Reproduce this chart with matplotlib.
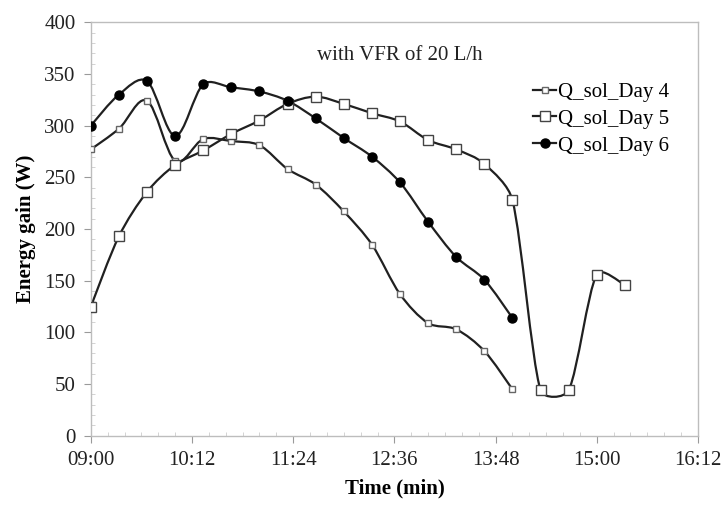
#!/usr/bin/env python3
# Energy gain per time of day, VFR 20 L/h
import matplotlib
matplotlib.use("Agg")
import numpy as np
import matplotlib.pyplot as plt
from matplotlib.path import Path
from matplotlib.patches import PathPatch
from matplotlib.lines import Line2D
from matplotlib.ticker import MultipleLocator

times_day4 = ["09:00", "09:20", "09:40", "10:00", "10:20", "10:40", "11:00", "11:20",
              "11:40", "12:00", "12:20", "12:40", "13:00", "13:20", "13:40", "14:00"]
q_day4 = [277, 297, 324, 266, 287, 285, 281, 258, 243, 217, 185, 137, 109, 103, 82, 45]

times_day5 = times_day4 + ["14:20", "14:40", "15:00", "15:20"]
q_day5 = [125, 193, 236, 262, 276, 292, 305, 321, 328, 321, 312, 304, 286, 277, 263, 228,
          44, 44, 156, 146]

times_day6 = times_day4
q_day6 = [300, 330, 343, 290, 340, 337, 333, 324, 307, 288, 270, 245, 207, 173, 151, 114]

x_tick_labels = ["09:00", "10:12", "11:24", "12:36", "13:48", "15:00", "16:12"]

plt.rcParams["font.family"] = ["Liberation Serif", "DejaVu Serif"]
plt.rcParams["font.size"] = 15


def to_min(t):
    h, m = t.split(":")
    return (int(h) - 9) * 60 + int(m)


def smooth_path(ax, xs, ys):
    # Excel-like smoothed line, control points worked out in screen space
    pts = ax.transData.transform(np.column_stack([xs, ys]))
    n = len(pts)
    verts = [pts[0]]
    codes = [Path.MOVETO]
    for i in range(n - 1):
        p0 = pts[i - 1] if i > 0 else pts[i]
        p1 = pts[i]
        p2 = pts[i + 1]
        p3 = pts[i + 2] if i + 2 < n else pts[i + 1]
        seg = np.hypot(*(p2 - p1)) / 3
        t1 = p2 - p0
        t2 = p3 - p1
        l1 = min(np.hypot(*t1) / 6, seg)
        l2 = min(np.hypot(*t2) / 6, seg)
        c1 = p1 + t1 / np.hypot(*t1) * l1
        c2 = p2 - t2 / np.hypot(*t2) * l2
        verts += [c1, c2, p2]
        codes += [Path.CURVE4] * 3
    verts = ax.transData.inverted().transform(np.array(verts))
    return Path(verts, codes)


fig = plt.figure(figsize=(7.21, 5.05), dpi=100)
ax = fig.add_axes([0.126, 0.137, 0.842, 0.819])
ax.set_xlim(0, 432)
ax.set_ylim(0, 400)

line_col = "#202020"
series = [
    (times_day4, q_day4, dict(marker="s", ms=4.5, mfc="white", mec="#666666", mew=1.0), "Q_sol_Day 4"),
    (times_day5, q_day5, dict(marker="s", ms=7, mfc="white", mec="#444444", mew=1.0), "Q_sol_Day 5"),
    (times_day6, q_day6, dict(marker="o", ms=6.5, mfc="black", mec="black", mew=1.0), "Q_sol_Day 6"),
]

handles = []
for times, vals, mk, label in series:
    xs = [to_min(t) for t in times]
    ax.add_patch(PathPatch(smooth_path(ax, xs, vals), fill=False, ec=line_col, lw=1.6, zorder=2))
    ax.plot(xs, vals, ls="none", zorder=3, **mk)
    handles.append(Line2D([], [], color=line_col, lw=1.6, **mk))

ax.set_xticks(range(0, 433, 72))
ax.set_xticklabels(x_tick_labels)
ax.set_yticks(range(0, 401, 50))
ax.xaxis.set_minor_locator(MultipleLocator(12))
ax.yaxis.set_minor_locator(MultipleLocator(10))

for s in ax.spines.values():
    s.set_color("#bdbdbd")
    s.set_linewidth(1.0)
ax.tick_params(which="major", direction="out", length=5, color="#9a9a9a", labelcolor="#222222", pad=6)
ax.tick_params(which="minor", direction="in", length=3, color="#cccccc")

ax.set_xlabel("Time (min)", fontweight="bold", labelpad=6)
ax.set_ylabel("Energy gain (W)", fontweight="bold", labelpad=6)

ax.text(220, 368, "with VFR of 20 L/h", ha="center", va="center", color="#222222")

ax.legend(handles=handles, labels=[s[3] for s in series], loc="upper left",
          bbox_to_anchor=(0.715, 0.875), frameon=False, handlelength=1.1,
          handletextpad=0.1, labelspacing=0.35, borderaxespad=0)

fig.savefig("out.png", dpi=100)
